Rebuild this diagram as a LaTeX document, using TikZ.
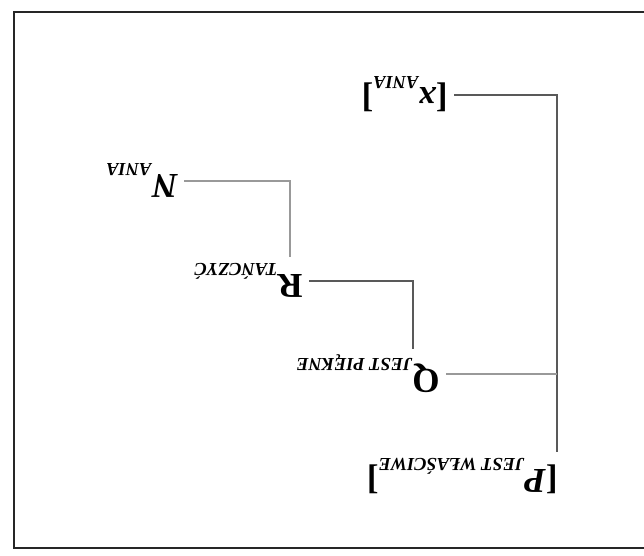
\documentclass[tikz,border=0pt]{standalone}
\usepackage{fontspec}
\setmainfont{Liberation Serif}
\newcommand{\sbs}[1]{\raisebox{-5.5pt}{\fontsize{9.2}{10}\selectfont\itshape #1}}

\begin{document}
\begin{tikzpicture}[x=0.5pt, y=0.5pt,
      lab/.style={anchor=base west, inner sep=3pt, font=\fontsize{17.5}{20}\selectfont\bfseries},
      br/.style={draw=black!65, line width=1pt},
      brl/.style={draw=black!40, line width=0.9pt}]
  \useasboundingbox (0,0) rectangle (644,556);
  \draw[line width=1.3pt, black!85] (644,544) -- (14,544) -- (14,8) -- (644,8);
  % the tree is printed upside down
  \begin{scope}[rotate around={180:(322,278)}, transform shape]
    \node[lab] (pn) at (80,470) {[\textit{P}\sbs{JEST WŁAŚCIWE}]};
    \node[lab] (xn) at (190,88) {[\textit{x}\sbs{ANIA}]};
    \node[lab] (qn) at (198,370) {Q\sbs{JEST PIĘKNE}};
    \node[lab] (rn) at (335,275) {R\sbs{TAŃCZYĆ}};
    \node[lab] (nn) at (460,175) {\textit{N}\sbs{ANIA}};
    \draw[br] (xn.west) -| ([xshift=3.5pt]pn.south west);
    \draw[brl] (qn.west) -- ([xshift=3.5pt]pn.south west |- qn.west);
    \draw[br] (rn.west) -| ([xshift=16.5pt]qn.south west);
    \draw[brl] (nn.west) -| ([xshift=9.5pt]rn.south west);
  \end{scope}
\end{tikzpicture}
\end{document}
